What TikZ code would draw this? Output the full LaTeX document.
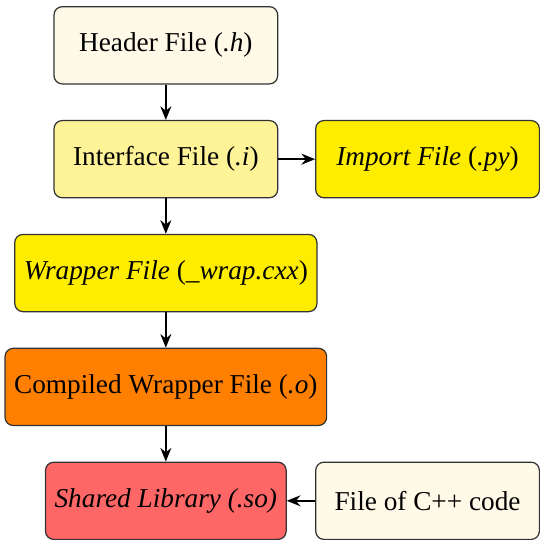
\documentclass[tikz,border=0pt]{standalone}
\usepackage{fontspec}
\setmainfont{Liberation Serif}
\usepackage{tikz}
\usetikzlibrary{arrows.meta,positioning,calc}

\definecolor{creamfill}{RGB}{255,250,232}
\definecolor{paleyellow}{RGB}{255,243,152}
\definecolor{goldyellow}{RGB}{255,237,0}
\definecolor{comporange}{RGB}{255,128,0}
\definecolor{libred}{RGB}{255,102,102}

\begin{document}
\begin{tikzpicture}[
  node distance=13pt and 13.5pt,
  fbox/.style={draw=black!80,rounded corners=3pt,line width=0.45pt,
    minimum width=82pt,minimum height=28.3pt,font=\normalsize},
  flow/.style={-{Stealth[length=5pt,width=4pt]},line width=0.75pt},
]
  \node[fbox,fill=creamfill] (hdr) {Header File (\textit{.h})};
  \node[fbox,fill=paleyellow,below=of hdr] (intf) {Interface File (\textit{.i})};
  \node[fbox,fill=goldyellow,right=of intf] (imp) {\textit{Import File} (\textit{.py})};
  \node[fbox,fill=goldyellow,below=of intf] (wrap) {\textit{Wrapper File} (\textit{\_wrap.cxx})};
  \node[fbox,fill=comporange,below=of wrap] (obj) {Compiled Wrapper File (\textit{.o})};
  \node[fbox,fill=libred,below=of obj] (lib) {\textit{Shared Library (.so)}};
  \node[fbox,fill=creamfill,anchor=west] at (lib.east -| imp.west) (cpp) {File of C++ code};

  % page frame
  \useasboundingbox (-60.8pt,16.6pt) rectangle (imp.east |- 0,-179pt);

  % main chain
  \draw[flow] (hdr) -- (intf);
  \draw[flow] (intf) -- (wrap);
  \draw[flow] (wrap) -- (obj);
  \draw[flow] (obj) -- (lib);

  % side files
  \draw[flow] (intf) -- (imp);
  \draw[flow] (cpp) -- (lib);
\end{tikzpicture}
\end{document}
